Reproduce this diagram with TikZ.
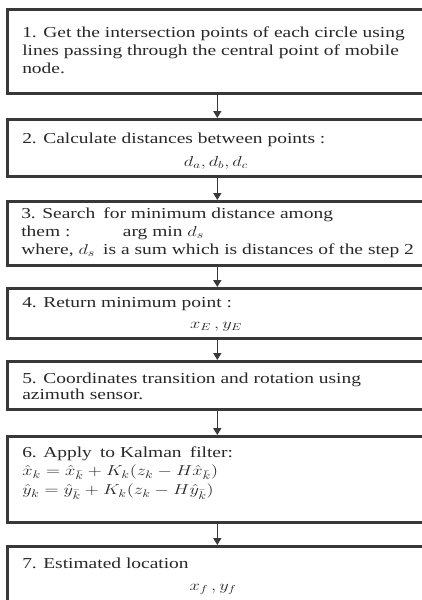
\documentclass[tikz,border=0pt]{standalone}
\usepackage{fontspec}
\setmainfont{Liberation Serif}
\usetikzlibrary{arrows.meta}
\definecolor{edge}{HTML}{383838}
\definecolor{ink}{HTML}{282828}
\newcommand{\lines}[1]{\begin{tabular}[t]{@{}l@{}}#1\end{tabular}}
\begin{document}
\begin{tikzpicture}[x=1pt,y=-1pt,
  stepbox/.style={draw=edge, line width=2.6pt, fill=white, minimum width=420pt, inner sep=0pt, anchor=north west},
  txt/.style={anchor=base west, inner sep=0pt, text=ink, xscale=1.28, transform shape, font=\fontsize{15.2}{18.3}\selectfont},
  mth/.style={anchor=base, inner sep=0pt, text=ink, xscale=1.28, transform shape, font=\fontsize{14}{18}\selectfont},
  link/.style={draw=edge, line width=1.6pt, -{Triangle[width=8pt,length=7pt]}}]
\useasboundingbox (0,0) rectangle (422,600);
\clip (0,0) rectangle (422,600);
\fill[white] (0,0) rectangle (422,600);
% boxes
\node[stepbox, minimum height=84pt] (b1) at (6,8) {};
\node[stepbox, minimum height=57pt] (b2) at (6,118) {};
\node[stepbox, minimum height=64pt] (b3) at (6,200) {};
\node[stepbox, minimum height=50pt] (b4) at (6,287) {};
\node[stepbox, minimum height=48pt] (b5) at (6,360) {};
\node[stepbox, minimum height=86pt] (b6) at (6,435) {};
\node[stepbox, minimum height=70pt] (b7) at (6,545) {};
% connectors
\draw[link] (b1.south) -- (b2.north);
\draw[link] (b2.south) -- (b3.north);
\draw[link] (b3.south) -- (b4.north);
\draw[link] (b4.south) -- (b5.north);
\draw[link] (b5.south) -- (b6.north);
\draw[link] (b6.south) -- (b7.north);
% texts
\node[txt] (t1) at (22,37) {\lines{1. Get the intersection points of each circle using\\
  lines passing through the central point of mobile\\ node.}};
\node[txt] (t2) at (22,143) {2. Calculate distances between points :};
\node[mth] (t2b) at (216,166) {$d_a, d_b, d_c$};
\node[txt] (t3) at (21,218) {\lines{3. Search\, for minimum distance among\\
  them :\hspace{2.7em}arg min $d_s$\\
  where, $d_s$\, is a sum which is distances of the step 2}};
\node[txt] (t4) at (22,307) {4. Return minimum point :};
\node[mth] (t4b) at (216,328) {$x_E\,,y_E$};
\node[txt] (t5) at (22,383) {\lines{5. Coordinates transition and rotation using\\[-1.5pt] azimuth sensor.}};
\node[txt] (t6) at (22,457) {\lines{6. Apply\, to Kalman\, filter:\\[0.5pt]
  $\hat{x}_k = \hat{x}_{\bar{k}} + K_k(z_k - H\hat{x}_{\bar{k}})$\\[0.8pt]
  $\hat{y}_k = \hat{y}_{\bar{k}} + K_k(z_k - H\hat{y}_{\bar{k}})$}};
\node[txt] (t7) at (22,568) {7. Estimated location};
\node[mth] (t7b) at (213,590) {$x_f\,,y_f$};
\end{tikzpicture}
\end{document}
